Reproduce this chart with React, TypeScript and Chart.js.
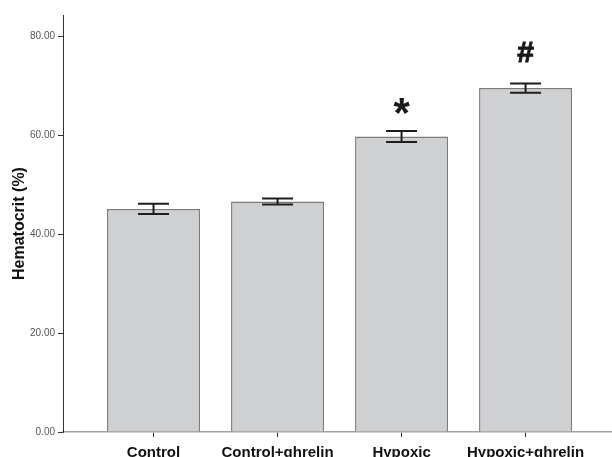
import React, { useEffect, useRef } from "react";
import { Chart, registerables } from "chart.js";

Chart.register(...registerables);

// Group names, mean hematocrit and SEM for each group
const categories = ["Control", "Control+ghrelin", "Hypoxic", "Hypoxic+ghrelin"];
const hematocrit = [45.15, 46.65, 59.8, 69.6];
const sem = [1.05, 0.6, 1.1, 0.95];
const significance = ["", "", "*", "#"];
const yTicks = [0, 20, 40, 60, 80];

const FONT = "'Liberation Sans', Arial, Helvetica, sans-serif";

// Draws SEM whiskers and significance markers on top of the bars
const errorBarPlugin = {
  id: "errorBars",
  afterDatasetsDraw(chart: any) {
    const { ctx, scales } = chart;
    const meta = chart.getDatasetMeta(0);
    ctx.save();
    meta.data.forEach((bar: any, i: number) => {
      const x = bar.x;
      const yHi = scales.y.getPixelForValue(hematocrit[i] + sem[i]);
      const yLo = scales.y.getPixelForValue(hematocrit[i] - sem[i]);
      const half = 15.5;
      ctx.strokeStyle = "#1e1e1e";
      ctx.lineWidth = 2;
      ctx.beginPath();
      ctx.moveTo(x, yHi);
      ctx.lineTo(x, yLo);
      ctx.moveTo(x - half, yHi);
      ctx.lineTo(x + half, yHi);
      ctx.moveTo(x - half, yLo);
      ctx.lineTo(x + half, yLo);
      ctx.stroke();

      const mark = significance[i];
      if (mark) {
        ctx.fillStyle = "#1a1a1a";
        ctx.textAlign = "center";
        ctx.textBaseline = "alphabetic";
        if (mark === "*") {
          ctx.font = `bold 42px ${FONT}`;
          ctx.fillText(mark, x, yHi - 4);
        } else {
          ctx.font = `bold 30px ${FONT}`;
          ctx.lineWidth = 1;
          ctx.strokeStyle = "#1a1a1a";
          ctx.fillText(mark, x, yHi - 21);
          ctx.strokeText(mark, x, yHi - 21);
        }
      }
    });
    ctx.restore();
  },
};

export default function App() {
  const canvasRef = useRef<HTMLCanvasElement | null>(null);

  useEffect(() => {
    const canvas = canvasRef.current;
    if (!canvas) return;
    const chart = new Chart(canvas, {
      type: "bar",
      data: {
        datasets: [
          {
            data: hematocrit.map((v, i) => ({ x: i, y: v })),
            backgroundColor: "#cfd0d2",
            borderColor: "#7c7c7e",
            borderWidth: 1.5,
            categoryPercentage: 1,
            barPercentage: 0.75,
          },
        ],
      },
      options: {
        responsive: false,
        animation: false,
        layout: { padding: { top: 15, right: 0, left: 0, bottom: 0 } },
        plugins: {
          legend: { display: false },
          tooltip: { enabled: false },
        },
        scales: {
          x: {
            type: "linear",
            offset: false,
            min: -0.73,
            max: 3.697,
            afterBuildTicks: (scale: any) => {
              scale.ticks = categories.map((_, i) => ({ value: i }));
            },
            afterFit: (scale: any) => {
              scale.height = 25;
            },
            grid: {
              offset: false,
              drawOnChartArea: false,
              drawTicks: true,
              tickLength: 5,
              color: "#333",
              lineWidth: 1,
            },
            border: { display: true, color: "#a0a0a0", width: 1.5 },
            ticks: {
              autoSkip: false,
              maxRotation: 0,
              padding: 7,
              color: "#111",
              font: { family: FONT, size: 15, weight: "bold" },
              callback: (v: any) => categories[v as number] ?? "",
            },
          },
          y: {
            min: 0,
            max: 84.4,
            afterBuildTicks: (scale: any) => {
              scale.ticks = yTicks.map((v) => ({ value: v }));
            },
            afterFit: (scale: any) => {
              scale.width = 63;
            },
            grid: {
              drawOnChartArea: false,
              drawTicks: true,
              tickLength: 5,
              color: "#333",
              lineWidth: 1,
            },
            border: { display: true, color: "#333", width: 1 },
            ticks: {
              padding: 3,
              color: "#555",
              font: { family: FONT, size: 10 },
              callback: (v: any) => Number(v).toFixed(2),
            },
            title: {
              display: true,
              text: "Hematocrit (%)",
              color: "#111",
              padding: { top: 10, bottom: 0 },
              font: { family: FONT, size: 16, weight: "bold" },
            },
          },
        },
      },
      plugins: [errorBarPlugin],
    } as any);
    return () => chart.destroy();
  }, []);

  return (
    <div style={{ position: "fixed", left: 0, top: 0, width: 612, height: 457, background: "#fff" }}>
      <canvas ref={canvasRef} width={612} height={457} />
    </div>
  );
}
